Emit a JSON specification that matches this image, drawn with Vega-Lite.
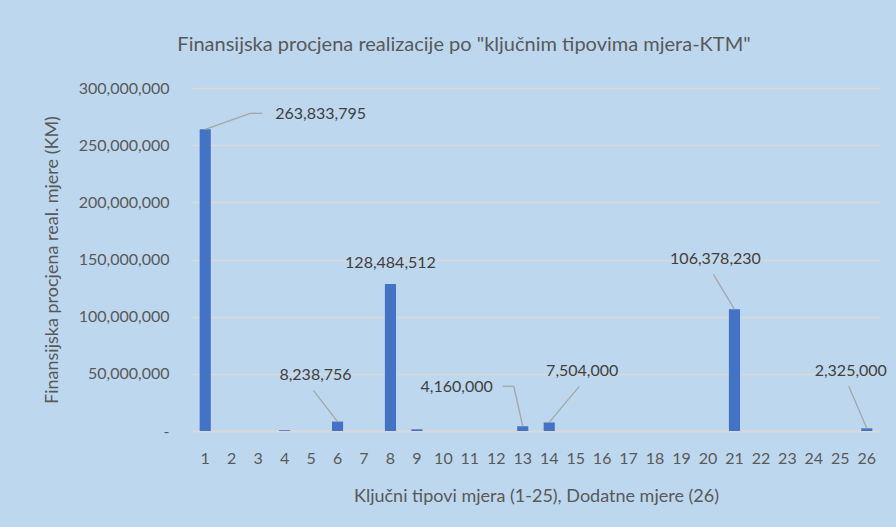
{
  "$schema": "https://vega.github.io/schema/vega-lite/v6.json",
  "autosize": "none",
  "width": 688,
  "height": 343,
  "padding": {"left": 192, "top": 88, "right": 16, "bottom": 96},
  "background": "#BDD7EE",
  "title": {
    "text": "Finansijska procjena realizacije po \"ključnim tipovima mjera-KTM\"",
    "font": "Lato",
    "fontSize": 20,
    "fontWeight": "normal",
    "color": "#595959",
    "anchor": "middle",
    "dx": -72,
    "offset": 25
  },
  "config": {
    "view": {"stroke": null},
    "axis": {"labelFont": "Lato", "titleFont": "Lato", "labelColor": "#595959", "titleColor": "#595959", "labelFontSize": 16, "titleFontSize": 18, "titleFontWeight": "normal", "labelOverlap": false}
  },
  "data": {
    "values": [
      {"k": 1, "v": 263833795},
      {"k": 2, "v": 0},
      {"k": 3, "v": 0},
      {"k": 4, "v": 700000},
      {"k": 5, "v": 0},
      {"k": 6, "v": 8238756},
      {"k": 7, "v": 0},
      {"k": 8, "v": 128484512},
      {"k": 9, "v": 1500000},
      {"k": 10, "v": 0},
      {"k": 11, "v": 0},
      {"k": 12, "v": 0},
      {"k": 13, "v": 4160000},
      {"k": 14, "v": 7504000},
      {"k": 15, "v": 0},
      {"k": 16, "v": 0},
      {"k": 17, "v": 0},
      {"k": 18, "v": 0},
      {"k": 19, "v": 0},
      {"k": 20, "v": 0},
      {"k": 21, "v": 106378230},
      {"k": 22, "v": 0},
      {"k": 23, "v": 0},
      {"k": 24, "v": 0},
      {"k": 25, "v": 0},
      {"k": 26, "v": 2325000}
    ]
  },
  "encoding": {
    "x": {
      "field": "k", "type": "ordinal",
      "scale": {"paddingInner": 0.58, "paddingOuter": 0.29},
      "axis": {"title": "Ključni tipovi mjera (1-25), Dodatne mjere (26)", "labelAngle": 0, "ticks": false, "domainColor": "#D9D9D9", "domainWidth": 1.5, "labelPadding": 19, "titleY": 65, "titleBaseline": "middle"}
    },
    "y": {
      "field": "v", "type": "quantitative",
      "scale": {"domain": [0, 300000000], "nice": false},
      "axis": {"title": "Finansijska procjena real. mjere (KM)", "values": [0, 50000000, 100000000, 150000000, 200000000, 250000000, 300000000], "labelExpr": "datum.value == 0 ? '-' : format(datum.value, ',')", "ticks": false, "domain": false, "gridColor": "#D9D9D9", "gridWidth": 1.5, "labelPadding": 23, "titleX": -140, "titleY": 171.5, "titleBaseline": "middle", "titleAlign": "center"}
    }
  },
  "layer": [
    {"mark": {"type": "bar", "color": "#4472C4"}},
    {"transform": [{"filter": "datum.k == 1"}], "mark": {"type": "rule", "color": "#A6A6A6", "strokeWidth": 1.3, "x2Offset": 45, "y2Offset": -16}, "encoding": {"x2": {"field": "k"}, "y2": {"field": "v"}}},
    {"transform": [{"filter": "datum.k == 1"}], "mark": {"type": "rule", "color": "#A6A6A6", "strokeWidth": 1.3, "xOffset": 45, "yOffset": -16, "x2Offset": 57, "y2Offset": -16}, "encoding": {"x2": {"field": "k"}, "y2": {"field": "v"}}},
    {"transform": [{"filter": "datum.k == 6"}], "mark": {"type": "rule", "color": "#A6A6A6", "strokeWidth": 1.3, "x2Offset": -24, "y2Offset": -31}, "encoding": {"x2": {"field": "k"}, "y2": {"field": "v"}}},
    {"transform": [{"filter": "datum.k == 13"}], "mark": {"type": "rule", "color": "#A6A6A6", "strokeWidth": 1.3, "x2Offset": -9, "y2Offset": -40}, "encoding": {"x2": {"field": "k"}, "y2": {"field": "v"}}},
    {"transform": [{"filter": "datum.k == 13"}], "mark": {"type": "rule", "color": "#A6A6A6", "strokeWidth": 1.3, "xOffset": -9, "yOffset": -40, "x2Offset": -20, "y2Offset": -40}, "encoding": {"x2": {"field": "k"}, "y2": {"field": "v"}}},
    {"transform": [{"filter": "datum.k == 14"}], "mark": {"type": "rule", "color": "#A6A6A6", "strokeWidth": 1.3, "x2Offset": 30, "y2Offset": -36}, "encoding": {"x2": {"field": "k"}, "y2": {"field": "v"}}},
    {"transform": [{"filter": "datum.k == 21"}], "mark": {"type": "rule", "color": "#A6A6A6", "strokeWidth": 1.3, "x2Offset": -21, "y2Offset": -35}, "encoding": {"x2": {"field": "k"}, "y2": {"field": "v"}}},
    {"transform": [{"filter": "datum.k == 26"}], "mark": {"type": "rule", "color": "#A6A6A6", "strokeWidth": 1.3, "x2Offset": -18, "y2Offset": -42}, "encoding": {"x2": {"field": "k"}, "y2": {"field": "v"}}},
    {"transform": [{"filter": "datum.k == 1"}], "mark": {"type": "text", "font": "Lato", "fontSize": 16, "color": "#404040", "align": "left", "baseline": "middle", "dx": 70, "dy": -15}, "encoding": {"text": {"field": "v", "type": "quantitative", "format": ","}}},
    {"transform": [{"filter": "datum.k == 6"}], "mark": {"type": "text", "font": "Lato", "fontSize": 16, "color": "#404040", "align": "center", "baseline": "middle", "dx": -22, "dy": -47}, "encoding": {"text": {"field": "v", "type": "quantitative", "format": ","}}},
    {"transform": [{"filter": "datum.k == 8"}], "mark": {"type": "text", "font": "Lato", "fontSize": 16, "color": "#404040", "align": "center", "baseline": "middle", "dx": 0, "dy": -21}, "encoding": {"text": {"field": "v", "type": "quantitative", "format": ","}}},
    {"transform": [{"filter": "datum.k == 13"}], "mark": {"type": "text", "font": "Lato", "fontSize": 16, "color": "#404040", "align": "right", "baseline": "middle", "dx": -30, "dy": -39}, "encoding": {"text": {"field": "v", "type": "quantitative", "format": ","}}},
    {"transform": [{"filter": "datum.k == 14"}], "mark": {"type": "text", "font": "Lato", "fontSize": 16, "color": "#404040", "align": "center", "baseline": "middle", "dx": 33, "dy": -51}, "encoding": {"text": {"field": "v", "type": "quantitative", "format": ","}}},
    {"transform": [{"filter": "datum.k == 21"}], "mark": {"type": "text", "font": "Lato", "fontSize": 16, "color": "#404040", "align": "center", "baseline": "middle", "dx": -19, "dy": -50}, "encoding": {"text": {"field": "v", "type": "quantitative", "format": ","}}},
    {"transform": [{"filter": "datum.k == 26"}], "mark": {"type": "text", "font": "Lato", "fontSize": 16, "color": "#404040", "align": "center", "baseline": "middle", "dx": -16, "dy": -57}, "encoding": {"text": {"field": "v", "type": "quantitative", "format": ","}}}
  ]
}
